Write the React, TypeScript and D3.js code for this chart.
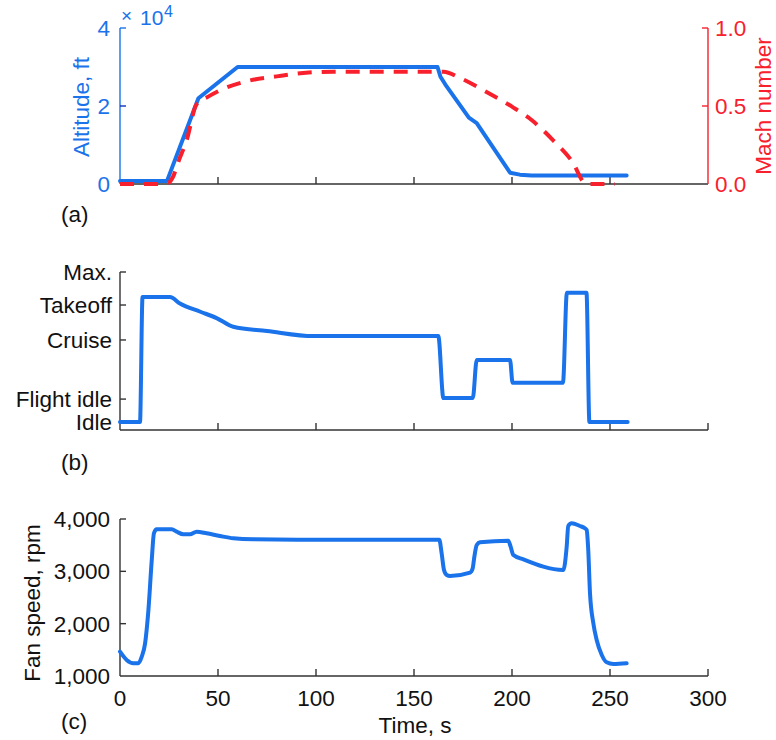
import React from "react";
import * as d3 from "d3";

// ---------- data ----------
const altTime = [0, 24, 40, 60, 162, 163.5, 166, 178, 180, 182, 199, 204, 210, 258.5];
const altitudeFt = [800, 800, 22000, 30000, 30000, 27500, 25500, 17000, 16300, 15600, 2900, 2400, 2200, 2200];

const machTime = [0, 22, 25, 27, 30, 34, 39, 45, 51, 65, 80, 92, 109, 165, 173.5, 187, 200.7, 210, 221, 230.4, 238, 252.5];
const machNumber = [0, 0, 0.01, 0.045, 0.15, 0.28, 0.51, 0.56, 0.6, 0.66, 0.69, 0.71, 0.72, 0.72, 0.68, 0.59, 0.49, 0.41, 0.28, 0.15, 0, 0];

const throttleLabels = ["Idle", "Flight idle", "Cruise", "Takeoff", "Max."];
const throttleLevels = [0, 0.153, 0.547, 0.78, 1.0];
const throttleTime = [0, 10.2, 11.5, 25.5, 30.6, 41, 49.3, 57.8, 75, 98.6, 162.4, 165, 180, 182, 199, 200.3, 226, 228, 238, 239.5, 259];
const throttleValue = [0, 0, 0.833, 0.833, 0.79, 0.735, 0.693, 0.635, 0.607, 0.573, 0.573, 0.16, 0.16, 0.413, 0.413, 0.262, 0.262, 0.862, 0.862, 0, 0];

const fanTime = [0, 3.4, 6.8, 9.3, 11.1, 12.8, 14.5, 16.2, 17.3, 18.7, 23.8, 26.4, 28.9, 32.3, 35.7, 39.1, 44.2, 51, 57.8, 68, 100, 162.9, 164.1, 165.3, 166.7, 168.4, 178.6, 179.9, 180.8, 182, 183.7, 198.1, 199.3, 200.7, 205.8, 226.2, 227.9, 228.7, 230.4, 234.7, 237.2, 238.1, 238.9, 239.8, 241.5, 243.2, 245.8, 248.3, 251.7, 258.5];
const fanRpm = [1464, 1306, 1243, 1243, 1369, 1624, 2261, 3217, 3727, 3803, 3803, 3803, 3758, 3708, 3708, 3758, 3727, 3675, 3631, 3612, 3605, 3605, 3345, 3026, 2930, 2911, 2975, 3050, 3280, 3503, 3555, 3586, 3471, 3312, 3229, 3026, 3471, 3866, 3918, 3866, 3822, 3790, 3408, 2580, 2007, 1688, 1401, 1262, 1230, 1243];

const timeTicks = [0, 50, 100, 150, 200, 250, 300];
const altTicks = [0, 20000, 40000];
const machTicks = [0, 0.5, 1.0];
const fanTicks = [1000, 2000, 3000, 4000];

// ---------- style ----------
const BLUE = "#1a73ea";
const RED = "#f7202c";
const AXIS = "#333";
const FONT = "Liberation Sans, Arial, Helvetica, sans-serif";
const FS = 22.5;

const x = d3.scaleLinear().domain([0, 300]).range([120, 708]);

const yAlt = d3.scaleLinear().domain([0, 40000]).range([184, 28]);
const yMach = d3.scaleLinear().domain([0, 1]).range([184, 28]);
const yThr = d3.scaleLinear().domain([-0.053, 1]).range([430, 272]);
const yFan = d3.scaleLinear().domain([1000, 4000]).range([676, 519]);

function pathOf(ts: number[], vs: number[], y: d3.ScaleLinear<number, number>, curve: d3.CurveFactory) {
  const pts = ts.map((t, i) => [t, vs[i]] as [number, number]);
  return d3.line<[number, number]>().x(d => x(d[0])).y(d => y(d[1])).curve(curve)(pts) || "";
}

function BottomAxis({ y0, ticks, labels, lastTick }: { y0: number; ticks: number[]; labels: boolean; lastTick: boolean }) {
  return (
    <g>
      <line x1={x(0)} x2={x(300)} y1={y0} y2={y0} stroke={AXIS} strokeWidth={1.4} />
      {ticks.filter(t => t > 0 && (lastTick || t < 300)).map(t => (
        <line key={t} x1={x(t)} x2={x(t)} y1={y0} y2={y0 - 7} stroke={AXIS} strokeWidth={1.4} />
      ))}
      {labels && ticks.map(t => (
        <text key={"l" + t} x={x(t)} y={y0 + 30} textAnchor="middle" fontSize={FS} fill="#111">{t}</text>
      ))}
    </g>
  );
}

export default function App() {
  const fmt = d3.format(",");
  return (
    <svg width={776} height={740} style={{ position: "absolute", left: 0, top: 0, background: "#fff" }} fontFamily={FONT}>
      {/* ---------- panel (a) ---------- */}
      <BottomAxis y0={184} ticks={timeTicks} labels={false} lastTick={false} />
      <line x1={120} x2={120} y1={yAlt(40000)} y2={184} stroke={BLUE} strokeWidth={1.4} />
      {altTicks.map(v => (
        <g key={v}>
          {v > 0 && <line x1={120} x2={126} y1={yAlt(v)} y2={yAlt(v)} stroke={v === 40000 ? BLUE : "#1030c0"} strokeWidth={1.4} />}
          <text x={110} y={yAlt(v)} dy="0.36em" textAnchor="end" fontSize={FS} fill={BLUE}>{v / 10000}</text>
        </g>
      ))}
      <text x={121} y={22} fontSize={19} fill={BLUE}>×</text>
      <text x={140} y={25} fontSize={21} fill={BLUE}>10</text>
      <text x={164} y={17} fontSize={16} fill={BLUE}>4</text>
      <text transform={`translate(89,107) rotate(-90)`} textAnchor="middle" fontSize={FS} fill={BLUE}>Altitude, ft</text>

      <line x1={708} x2={708} y1={yMach(1)} y2={184} stroke={RED} strokeWidth={1.4} />
      {machTicks.map(v => (
        <g key={v}>
          {v > 0 && <line x1={708} x2={702} y1={yMach(v)} y2={yMach(v)} stroke={RED} strokeWidth={1.4} />}
          <text x={715} y={yMach(v)} dy="0.36em" fontSize={FS} fill={RED}>{v.toFixed(1)}</text>
        </g>
      ))}
      <text transform={`translate(771,106) rotate(-90)`} textAnchor="middle" fontSize={FS} fill={RED}>Mach number</text>

      <path d={pathOf(altTime, altitudeFt, yAlt, d3.curveLinear)} fill="none" stroke={BLUE} strokeWidth={4} strokeLinejoin="round" strokeLinecap="round" />
      <path d={pathOf(machTime, machNumber, yMach, d3.curveMonotoneX)} fill="none" stroke={RED} strokeWidth={4} strokeDasharray="14 10" />
      <text x={61} y={222} fontSize={FS} fill="#111">(a)</text>

      {/* ---------- panel (b) ---------- */}
      <BottomAxis y0={430} ticks={timeTicks} labels={false} lastTick={true} />
      <line x1={120} x2={120} y1={yThr(1)} y2={430} stroke={AXIS} strokeWidth={1.4} />
      {throttleLevels.map((v, i) => (
        <g key={i}>
          {i > 0 && <line x1={120} x2={126} y1={yThr(v)} y2={yThr(v)} stroke={AXIS} strokeWidth={1.4} />}
          <text x={112} y={yThr(v)} dy="0.36em" textAnchor="end" fontSize={FS} fill="#111">{throttleLabels[i]}</text>
        </g>
      ))}
      <path d={pathOf(throttleTime, throttleValue, yThr, d3.curveMonotoneX)} fill="none" stroke={BLUE} strokeWidth={4} strokeLinejoin="round" strokeLinecap="round" />
      <text x={61} y={470} fontSize={FS} fill="#111">(b)</text>

      {/* ---------- panel (c) ---------- */}
      <BottomAxis y0={676} ticks={timeTicks} labels={true} lastTick={true} />
      <line x1={120} x2={120} y1={yFan(4000)} y2={676} stroke={AXIS} strokeWidth={1.4} />
      {fanTicks.map(v => (
        <g key={v}>
          {v > 1000 && <line x1={120} x2={126} y1={yFan(v)} y2={yFan(v)} stroke={AXIS} strokeWidth={1.4} />}
          <text x={110} y={yFan(v)} dy="0.36em" textAnchor="end" fontSize={FS} fill="#111">{fmt(v)}</text>
        </g>
      ))}
      <text transform={`translate(40,603) rotate(-90)`} textAnchor="middle" fontSize={FS} fill="#111">Fan speed, rpm</text>
      <path d={pathOf(fanTime, fanRpm, yFan, d3.curveMonotoneX)} fill="none" stroke={BLUE} strokeWidth={4} strokeLinejoin="round" strokeLinecap="round" />
      <text x={61} y={729} fontSize={FS} fill="#111">(c)</text>
      <text x={415} y={733} textAnchor="middle" fontSize={FS} fill="#111">Time, s</text>
    </svg>
  );
}
